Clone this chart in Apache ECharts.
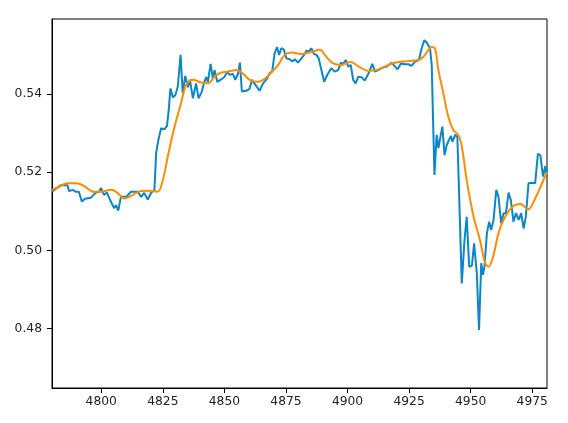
<!DOCTYPE html>
<html>
<head>
<meta charset="utf-8">
<script src="https://cdn.jsdelivr.net/npm/echarts@6/dist/echarts.min.js"></script>
<style>
html,body{margin:0;padding:0;background:#fff;}
#chart{width:568px;height:423px;}
</style>
</head>
<body>
<div id="chart"></div>
<script>
// Raw series (x, value)
const rawX = [4780.0,4781.6,4783.6,4786.3,4786.9,4788.5,4789.7,4790.9,4792.1,4793.4,4795.8,4797.8,4799.1,4799.9,4801.1,4802.3,4803.9,4805.2,4806.0,4806.9,4808.0,4810.1,4812.1,4814.8,4816.2,4817.4,4818.9,4820.2,4821.6,4822.3,4823.2,4824.3,4825.6,4826.7,4827.4,4828.1,4829.1,4830.1,4831.1,4832.2,4833.1,4834.1,4835.2,4836.0,4837.2,4838.5,4839.5,4840.6,4841.9,4842.6,4843.3,4844.4,4845.3,4846.0,4847.1,4848.7,4850.1,4851.2,4852.1,4853.5,4854.4,4855.5,4856.3,4857.1,4858.9,4860.2,4861.2,4862.6,4864.3,4865.7,4867.4,4868.4,4869.4,4870.4,4871.4,4872.2,4873.1,4874.1,4875.2,4876.5,4877.6,4878.6,4879.9,4881.3,4882.4,4883.3,4884.2,4885.3,4886.4,4887.4,4888.3,4889.4,4890.5,4891.8,4893.4,4894.8,4896.2,4897.3,4898.2,4899.3,4900.3,4901.3,4902.3,4903.3,4904.4,4905.7,4907.0,4908.4,4910.1,4911.1,4912.5,4913.8,4915.8,4917.9,4919.3,4920.3,4921.7,4923.3,4924.7,4926.0,4927.4,4929.0,4930.1,4931.2,4932.2,4933.5,4934.2,4934.7,4935.3,4936.2,4936.9,4937.7,4938.5,4939.4,4940.3,4941.2,4942.0,4942.6,4943.7,4944.6,4945.3,4946.4,4947.5,4948.4,4949.4,4950.5,4951.4,4952.5,4953.4,4954.3,4955.0,4955.6,4956.6,4957.5,4958.3,4959.3,4960.4,4961.3,4962.4,4963.4,4964.3,4965.4,4966.3,4967.4,4968.4,4969.5,4970.5,4971.5,4972.4,4973.5,4974.8,4976.2,4977.3,4978.3,4979.4,4980.3,4981.0];
const rawY = [0.5150,0.5158,0.5167,0.5167,0.5152,0.5155,0.5150,0.5150,0.5125,0.5132,0.5135,0.5148,0.5150,0.5160,0.5142,0.5148,0.5125,0.5108,0.5116,0.5102,0.5137,0.5137,0.5150,0.5150,0.5137,0.5147,0.5130,0.5147,0.5155,0.5250,0.5283,0.5313,0.5310,0.5319,0.5360,0.5415,0.5392,0.5398,0.5420,0.5501,0.5403,0.5447,0.5418,0.5437,0.5390,0.5428,0.5390,0.5403,0.5432,0.5444,0.5432,0.5478,0.5441,0.5462,0.5432,0.5438,0.5445,0.5458,0.5450,0.5452,0.5437,0.5452,0.5481,0.5407,0.5409,0.5414,0.5437,0.5424,0.5409,0.5428,0.5441,0.5455,0.5458,0.5505,0.5521,0.5501,0.5518,0.5515,0.5492,0.5490,0.5484,0.5490,0.5481,0.5492,0.5501,0.5512,0.5509,0.5518,0.5503,0.5501,0.5492,0.5462,0.5432,0.5450,0.5467,0.5458,0.5462,0.5481,0.5478,0.5488,0.5471,0.5475,0.5437,0.5428,0.5445,0.5444,0.5435,0.5452,0.5478,0.5458,0.5462,0.5467,0.5471,0.5481,0.5471,0.5464,0.5479,0.5477,0.5477,0.5473,0.5484,0.5488,0.5518,0.5539,0.5532,0.5518,0.5475,0.5343,0.5193,0.5296,0.5262,0.5290,0.5317,0.5244,0.5270,0.5283,0.5293,0.5278,0.5296,0.5291,0.5146,0.4915,0.5026,0.5086,0.4958,0.4960,0.5018,0.4941,0.4796,0.4967,0.4937,0.4958,0.5044,0.5073,0.5052,0.5078,0.5155,0.5137,0.5069,0.5095,0.5095,0.5148,0.5129,0.5073,0.5095,0.5078,0.5095,0.5056,0.5086,0.5172,0.5173,0.5172,0.5247,0.5244,0.5189,0.5216,0.5189];

// Smoothed series (x, value)
const smoothX = [4780,4783,4786,4790,4793,4797,4800,4804,4806.5,4809.4,4812.8,4816,4820,4822.9,4825,4827,4829.6,4832.4,4834.5,4837.3,4840.6,4843.3,4846,4848,4851.2,4855.2,4858,4860.3,4863.7,4866.5,4868.4,4871.8,4874.5,4877.2,4881.2,4885.3,4888.7,4891.4,4894.2,4897.5,4901.2,4904.6,4908.4,4911.8,4913.7,4919.2,4924.6,4928.8,4930.8,4932.7,4934.1,4935.5,4936.9,4938.9,4940.9,4943,4945,4946.4,4948.4,4951.2,4953.8,4955.9,4957.3,4959.3,4961.3,4964,4967.4,4970.1,4973.3,4976.2,4979,4981];
const smoothY = [0.5155,0.5163,0.5172,0.5172,0.5165,0.5150,0.5150,0.5155,0.5148,0.5133,0.5142,0.5152,0.5153,0.5150,0.5180,0.5240,0.5313,0.5377,0.5424,0.5437,0.5430,0.5428,0.5445,0.5454,0.5458,0.5462,0.5450,0.5437,0.5432,0.5440,0.5452,0.5475,0.5501,0.5507,0.5503,0.5509,0.5514,0.5496,0.5479,0.5475,0.5483,0.5471,0.5460,0.5462,0.5467,0.5481,0.5485,0.5488,0.5496,0.5512,0.5521,0.5518,0.5462,0.5403,0.5343,0.5308,0.5296,0.5266,0.5180,0.5086,0.5026,0.4967,0.4958,0.4988,0.5044,0.5086,0.5114,0.5119,0.5105,0.5133,0.5172,0.5200];

const xTicks = [4800,4825,4850,4875,4900,4925,4950,4975];
const yTicks = [0.48,0.50,0.52,0.54];
const xMin = 4780, xMax = 4981;
const yMin = 0.4647, yMax = 0.5593;

const zip = (xs, ys) => xs.map((x, i) => [x, ys[i]]);

const chart = echarts.init(document.getElementById('chart'), null, {renderer: 'canvas'});
const font = 'DejaVu Sans';
chart.setOption({
  animation: false,
  grid: {left: 52, right: 21, top: 19, bottom: 35, show: true, borderColor: '#000', borderWidth: 1, backgroundColor: 'transparent'},
  xAxis: {
    type: 'value', min: xMin, max: xMax,
    axisLine: {show: true, lineStyle: {color: '#000', width: 1}},
    axisTick: {show: true, length: 5, lineStyle: {color: '#000'}, customValues: xTicks},
    axisLabel: {color: '#222', fontFamily: font, fontSize: 12.3, margin: 8, customValues: xTicks, formatter: v => String(v)},
    splitLine: {show: false}
  },
  yAxis: {
    type: 'value', min: yMin, max: yMax,
    axisLine: {show: true, lineStyle: {color: '#000', width: 1}},
    axisTick: {show: true, length: 5, lineStyle: {color: '#000'}, customValues: yTicks},
    axisLabel: {color: '#222', fontFamily: font, fontSize: 12.3, margin: 10, customValues: yTicks, formatter: v => v.toFixed(2)},
    splitLine: {show: false}
  },
  series: [
    {type: 'line', data: zip(rawX, rawY), showSymbol: false, symbol: 'none', lineStyle: {color: '#0b86c6', width: 2}, z: 2},
    {type: 'line', data: zip(smoothX, smoothY), showSymbol: false, symbol: 'none', smooth: 0.35, lineStyle: {color: '#ff8c00', width: 2}, z: 3}
  ]
});
</script>
</body>
</html>
